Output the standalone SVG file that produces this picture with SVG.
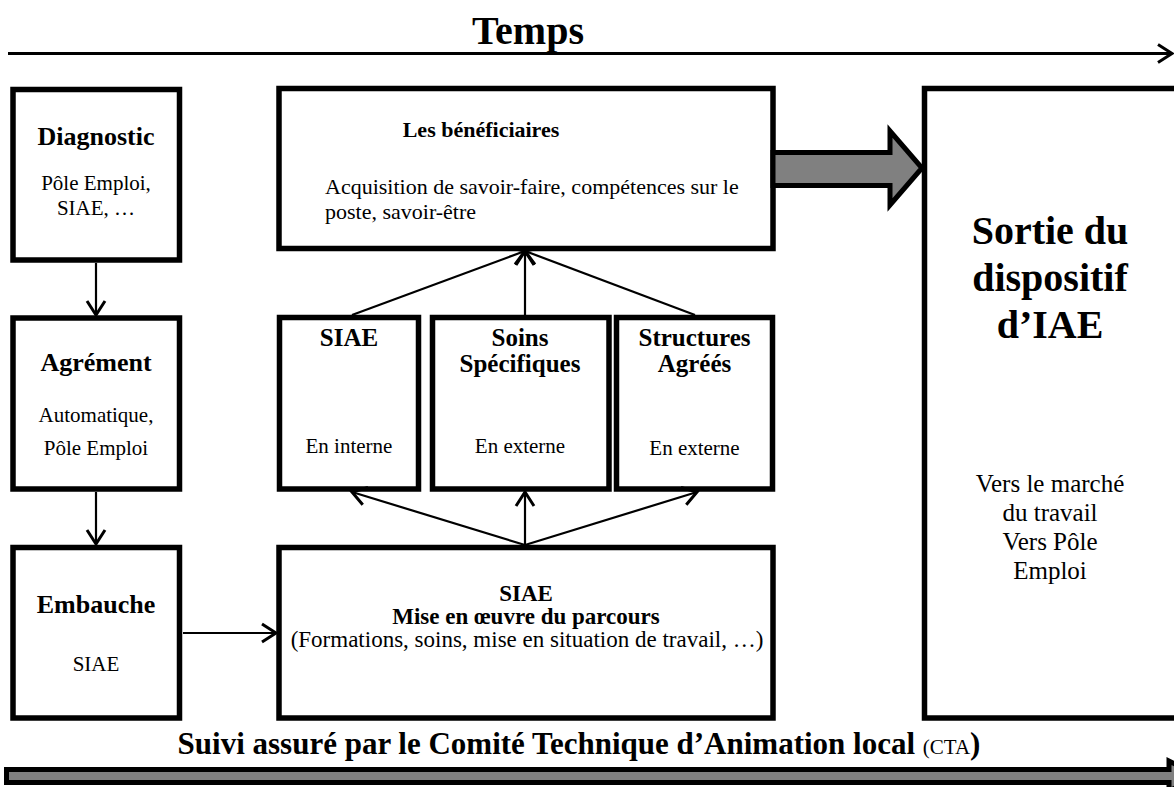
<svg xmlns="http://www.w3.org/2000/svg" width="1174" height="787" viewBox="0 0 1174 787">
<defs>
<style>
.box{fill:#fff;stroke:#000;stroke-width:5.5}
.t{font-family:"Liberation Serif","Times New Roman",serif;fill:#000;text-anchor:middle}
.s{text-anchor:start}
.b{font-weight:bold}
.ttl{font-size:26px}
.st{font-size:25px}
.sub{font-size:21px}
.ln{stroke:#000;stroke-width:2.2;fill:none}
.blk{fill:#808080;stroke:#000;stroke-width:5;stroke-linejoin:miter}
</style>
<marker id="ah" markerUnits="userSpaceOnUse" viewBox="-16 -10 18 20" refX="0" refY="0" markerWidth="18" markerHeight="20" orient="auto" overflow="visible">
<path d="M-14,-9 L0,0 L-14,9" fill="none" stroke="#000" stroke-width="3"/>
</marker>
</defs>
<rect width="1174" height="787" fill="#fff"/>

<g id="timeline">
<line x1="8" y1="53.5" x2="1172" y2="53.5" stroke="#000" stroke-width="2.8" marker-end="url(#ah)"/>
<text class="t b" x="528" y="44" font-size="40">Temps</text>
</g>

<g id="diagnostic">
<rect class="box" x="13" y="89.5" width="166.5" height="170.5"/>
<text class="t b ttl" x="96" y="145">Diagnostic</text>
<text class="t sub" x="96" y="190">Pôle Emploi,</text>
<text class="t sub" x="96" y="215">SIAE, …</text>
</g>

<g id="agrement">
<rect class="box" x="13" y="318" width="166.5" height="171"/>
<text class="t b ttl" x="96" y="371">Agrément</text>
<text class="t sub" x="96" y="422">Automatique,</text>
<text class="t sub" x="96" y="455">Pôle Emploi</text>
</g>

<g id="embauche">
<rect class="box" x="13" y="547.5" width="166.5" height="170.5"/>
<text class="t b ttl" x="96" y="613">Embauche</text>
<text class="t sub" x="96" y="671">SIAE</text>
</g>

<g id="beneficiaires">
<rect class="box" x="279" y="88.5" width="494" height="160"/>
<text class="t b" x="481" y="137" font-size="22">Les bénéficiaires</text>
<text class="t s" x="325" y="194" font-size="22">Acquisition de savoir-faire, compétences sur le</text>
<text class="t s" x="325" y="219" font-size="22">poste, savoir-être</text>
</g>

<g id="siae-interne">
<rect class="box" x="279.5" y="317.5" width="139" height="171.5"/>
<text class="t b st" x="349" y="346">SIAE</text>
<text class="t sub" x="349" y="453">En interne</text>
</g>

<g id="soins">
<rect class="box" x="432.5" y="317.5" width="176.5" height="171.5"/>
<text class="t b st" x="520" y="346">Soins</text>
<text class="t b st" x="520" y="372">Spécifiques</text>
<text class="t sub" x="520" y="453">En externe</text>
</g>

<g id="structures">
<rect class="box" x="616.5" y="317.5" width="156" height="171.5"/>
<text class="t b st" x="694.5" y="346">Structures</text>
<text class="t b st" x="694.5" y="372">Agréés</text>
<text class="t sub" x="694.5" y="455">En externe</text>
</g>

<g id="siae-parcours">
<rect class="box" x="279" y="547.5" width="494" height="170.5"/>
<text class="t b" x="526" y="601" font-size="23">SIAE</text>
<text class="t b" x="526" y="624" font-size="23">Mise en œuvre du parcours</text>
<text class="t" x="527" y="647" font-size="23">(Formations, soins, mise en situation de travail, …)</text>
</g>

<g id="sortie">
<rect class="box" x="924.5" y="88.5" width="260" height="629.5"/>
<text class="t b" x="1050" y="244" font-size="40">Sortie du</text>
<text class="t b" x="1050" y="291" font-size="40">dispositif</text>
<text class="t b" x="1050" y="338" font-size="40">d’IAE</text>
<text class="t" x="1050" y="492" font-size="25">Vers le marché</text>
<text class="t" x="1050" y="521" font-size="25">du travail</text>
<text class="t" x="1050" y="550" font-size="25">Vers Pôle</text>
<text class="t" x="1050" y="579" font-size="25">Emploi</text>
</g>

<g id="connectors">
<line class="ln" x1="96" y1="263" x2="96" y2="315" marker-end="url(#ah)"/>
<line class="ln" x1="96" y1="492" x2="96" y2="544" marker-end="url(#ah)"/>
<line class="ln" x1="183" y1="633" x2="276" y2="633" marker-end="url(#ah)"/>
<line class="ln" x1="525" y1="545" x2="352" y2="492" marker-end="url(#ah)"/>
<line class="ln" x1="525" y1="545" x2="525" y2="492" marker-end="url(#ah)"/>
<line class="ln" x1="525" y1="545" x2="697" y2="492" marker-end="url(#ah)"/>
<line class="ln" x1="352" y1="315" x2="525" y2="251" marker-end="url(#ah)"/>
<line class="ln" x1="525" y1="315" x2="525" y2="251" marker-end="url(#ah)"/>
<line class="ln" x1="695" y1="315" x2="525" y2="251" marker-end="url(#ah)"/>
<polygon class="blk" points="773,152.5 890,152.5 890,131 922,168 890,205 890,185.5 773,185.5"/>
</g>

<g id="suivi">
<text class="t b" x="579" y="754" font-size="31">Suivi assuré par le Comité Technique d’Animation local <tspan font-weight="normal" font-size="21">(CTA</tspan>)</text>
<polygon class="blk" points="6.5,769.5 1169,769.5 1169,761 1200,776 1169,791 1169,782.5 6.5,782.5"/>
</g>
</svg>
